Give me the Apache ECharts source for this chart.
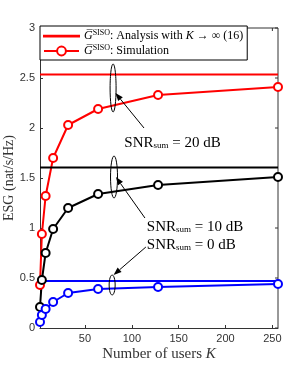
<!DOCTYPE html>
<html><head><meta charset="utf-8">
<script src="https://cdn.jsdelivr.net/npm/echarts@6/dist/echarts.min.js"></script>
<style>html,body{margin:0;padding:0;background:#fff}#c{width:307px;height:368px}</style>
</head><body><div id="c"></div>
<script>
const users = [2, 4, 8, 16, 32, 64, 128, 256];
const sim20 = [0.43, 0.94, 1.32, 1.70, 2.03, 2.19, 2.33, 2.41];
const sim10 = [0.21, 0.48, 0.75, 0.99, 1.20, 1.34, 1.43, 1.51];
const sim0 = [0.06, 0.13, 0.19, 0.26, 0.35, 0.39, 0.41, 0.44];
const asym20 = 2.535, asym10 = 1.605, asym0 = 0.47;
const xTicks = [50, 100, 150, 200, 250];
const yTicks = [0, 0.5, 1, 1.5, 2, 2.5, 3];

const serif = 'Liberation Serif';
const sans = 'Liberation Sans';
const chart = echarts.init(document.getElementById('c'), null, {renderer: 'canvas'});

function pairs(ys) { return users.map((k, i) => [k, ys[i]]); }
function flat(v) { return [[users[0], v], [users[users.length - 1], v]]; }

const richG = {
  g: {fontFamily: serif, fontSize: 12, fontStyle: 'italic', color: '#000'},
  sup: {fontFamily: serif, fontSize: 8, color: '#000', verticalAlign: 'top', padding: [0, 0, 6, 0]},
  t: {fontFamily: serif, fontSize: 12, color: '#000'},
  k: {fontFamily: serif, fontSize: 12, fontStyle: 'italic', color: '#000'}
};

function lineSeries(name, data, color, sym) {
  return {
    name, type: 'line', data, silent: true, animation: false,
    symbol: sym ? 'circle' : 'none', symbolSize: 8,
    itemStyle: {color: '#fff', borderColor: color, borderWidth: 2},
    lineStyle: {color, width: 2}
  };
}

chart.setOption({
  animation: false,
  backgroundColor: '#fff',
  grid: {left: 40, right: 29, top: 28, bottom: 40, show: false, containLabel: false, outerBoundsMode: 'none'},
  legend: {
    data: [{name: 'asym', icon: 'path://M0,0M100,12M0,5h100v2.4h-100z'}, {name: 'sim'}],
    orient: 'vertical', left: 40, top: 26, itemGap: 2,
    itemWidth: 35, itemHeight: 11,
    backgroundColor: '#fff', borderColor: '#000', borderWidth: 1,
    padding: [3, 4, 3, 3],
    formatter: n => n === 'asym'
      ? '{g|G\u0305}{sup|SISO}{t|: Analysis with }{k|K}{t| \u2192 \u221e (16)}'
      : '{g|G\u0305}{sup|SISO}{t|: Simulation}',
    textStyle: {rich: richG, padding: [0, 0, 0, 0]}
  },
  xAxis: {
    type: 'value', min: 2, max: 256,
    name: '{t|Number of users }{k|K}', nameLocation: 'middle', nameGap: 19, nameMoveOverlap: false,
    nameTextStyle: {rich: {t: {fontFamily: serif, fontSize: 15, color: '#333'}, k: {fontFamily: serif, fontSize: 15, fontStyle: 'italic', color: '#333'}}},
    axisLine: {show: true, onZero: false, lineStyle: {color: '#333', width: 1}},
    axisTick: {show: true, inside: true, length: 3, customValues: xTicks, lineStyle: {color: '#333'}},
    axisLabel: {customValues: xTicks, fontFamily: sans, fontSize: 11, color: '#333', margin: 5},
    splitLine: {show: false}
  },
  yAxis: {
    type: 'value', min: 0, max: 3, interval: 0.5,
    name: 'ESG (nat/s/Hz)', nameLocation: 'middle', nameGap: 24, nameMoveOverlap: false,
    nameTextStyle: {fontFamily: serif, fontSize: 14, color: '#333'},
    axisLine: {show: true, lineStyle: {color: '#333', width: 1}},
    axisTick: {show: true, inside: true, length: 3, lineStyle: {color: '#333'}},
    axisLabel: {fontFamily: sans, fontSize: 11, color: '#333', margin: 5},
    splitLine: {show: false}
  },
  series: [
    lineSeries('asym', flat(asym20), '#ff0000', false),
    lineSeries('sim', pairs(sim20), '#ff0000', true),
    lineSeries('a10', flat(asym10), '#000000', false),
    lineSeries('s10', pairs(sim10), '#000000', true),
    lineSeries('a0', flat(asym0), '#0000ff', false),
    lineSeries('s0', pairs(sim0), '#0000ff', true)
  ]
});

// annotations placed in data coordinates: ellipses, arrows, labels
const P = (x, y) => chart.convertToPixel({gridIndex: 0}, [x, y]);
const g = [];
const tl = P(2, 3), br = P(256, 0);
g.push({type: 'line', shape: {x1: tl[0], y1: tl[1], x2: br[0], y2: tl[1]}, style: {stroke: '#333', lineWidth: 1}, z: 1});
g.push({type: 'line', shape: {x1: br[0], y1: tl[1], x2: br[0], y2: br[1]}, style: {stroke: '#333', lineWidth: 1}, z: 1});
xTicks.forEach(v => { const p = P(v, 3); g.push({type: 'line', shape: {x1: p[0], y1: p[1], x2: p[0], y2: p[1] + 3}, style: {stroke: '#333'}}); });
yTicks.forEach(v => { const p = P(256, v); g.push({type: 'line', shape: {x1: p[0], y1: p[1], x2: p[0] - 3, y2: p[1]}, style: {stroke: '#333'}}); });

const ellipses = [[80, 2.40, 3, 24], [81, 1.51, 3.5, 21], [79, 0.43, 3, 10]];
ellipses.forEach(e => {
  const c = P(e[0], e[1]);
  g.push({type: 'ellipse', shape: {cx: c[0], cy: c[1], rx: e[2], ry: e[3]}, style: {fill: null, stroke: '#000', lineWidth: 1}, z: 10});
});
const arrows = [[113, 2.0, 82.5, 2.35], [114, 1.10, 83, 1.51], [115, 0.81, 80.5, 0.53]];
arrows.forEach(a => {
  const s = P(a[0], a[1]), t = P(a[2], a[3]);
  const ang = Math.atan2(t[1] - s[1], t[0] - s[0]);
  const L = 8, W = 3;
  const bx = t[0] - L * Math.cos(ang), by = t[1] - L * Math.sin(ang);
  g.push({type: 'line', shape: {x1: s[0], y1: s[1], x2: bx, y2: by}, style: {stroke: '#000', lineWidth: 1}, z: 10});
  g.push({type: 'polygon', shape: {points: [t, [bx - W * Math.sin(ang), by + W * Math.cos(ang)], [bx + W * Math.sin(ang), by - W * Math.cos(ang)]]}, style: {fill: '#000'}, z: 10});
});
const labels = [[92, 1.85, '20'], [116, 1.01, '10'], [116, 0.83, '0']];
const rs = {
  a: {fontFamily: serif, fontSize: 15, color: '#000'},
  s: {fontFamily: serif, fontSize: 9, color: '#000', verticalAlign: 'bottom', padding: [6, 0, 0, 0]}
};
labels.forEach(l => {
  const p = P(l[0], l[1]);
  g.push({type: 'text', x: p[0], y: p[1], z: 10, style: {text: '{a|SNR}{s|sum}{a| = ' + l[2] + ' dB}', rich: rs, verticalAlign: 'middle', align: 'left'}});
});
chart.setOption({graphic: g});
</script></body></html>
